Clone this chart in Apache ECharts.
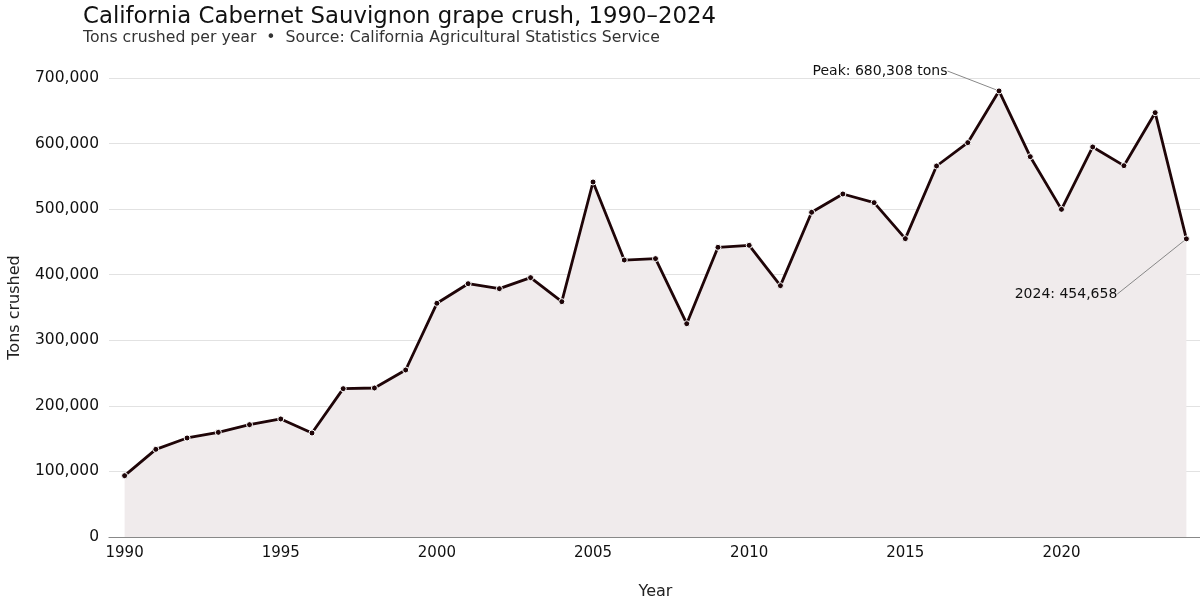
<!DOCTYPE html>
<html>
<head>
<meta charset="utf-8">
<title>California Cabernet Sauvignon grape crush</title>
<script src="https://cdn.jsdelivr.net/npm/echarts@6/dist/echarts.min.js"></script>
<style>
  html, body { margin: 0; padding: 0; background: #fff; overflow: hidden; }
  #chart { width: 1200px; height: 601px; }
</style>
</head>
<body>
<div id="chart"></div>
<script>
// years on the x axis
const years = [
  1990, 1991, 1992, 1993, 1994, 1995, 1996, 1997, 1998, 1999,
  2000, 2001, 2002, 2003, 2004, 2005, 2006, 2007, 2008, 2009,
  2010, 2011, 2012, 2013, 2014, 2015, 2016, 2017, 2018, 2019,
  2020, 2021, 2022, 2023, 2024
];

// tons crushed per year
const tons = [
  93500, 133700, 151000, 159600, 171300, 180000, 158600, 226200, 227200, 254700,
  356400, 386300, 378700, 395500, 358900, 541400, 422400, 424500, 325300, 441800,
  444800, 383300, 495200, 523100, 509900, 455000, 565800, 601400, 680308, 580000,
  499700, 594800, 566300, 647100, 454658
];

const yTicks = [0, 100000, 200000, 300000, 400000, 500000, 600000, 700000];

const peakIdx = tons.indexOf(Math.max(...tons));
const lastIdx = tons.length - 1;

const fmt = v => v.toLocaleString('en-US');
const font = 'DejaVu Sans';

const chartDom = document.getElementById('chart');
const myChart = echarts.init(chartDom);

// annotated points get their own label
const seriesData = tons.map((v, i) => {
  if (i === peakIdx) {
    return { value: v, label: { show: true, formatter: 'Peak: ' + fmt(v) + ' tons' } };
  }
  if (i === lastIdx) {
    return { value: v, label: { show: true, formatter: years[i] + ': ' + fmt(v) } };
  }
  return v;
});

const option = {
  animation: false,
  textStyle: { fontFamily: font },
  title: {
    text: 'California Cabernet Sauvignon grape crush, 1990\u20132024',
    subtext: 'Tons crushed per year  \u2022  Source: California Agricultural Statistics Service',
    left: 78,
    top: 1,
    itemGap: 1,
    textStyle: { fontFamily: font, fontSize: 22.8, fontWeight: 'normal', color: '#111' },
    subtextStyle: { fontFamily: font, fontSize: 15.7, color: '#333' }
  },
  // keep the plot box where it is, labels may sit outside it
  grid: { left: 109, right: -2, top: 78, bottom: 64, containLabel: false, outerBoundsMode: 'none' },
  xAxis: [
    {
      type: 'category',
      data: years,
      boundaryGap: true,
      name: 'Year',
      nameLocation: 'middle',
      nameGap: 47,
      nameTextStyle: { fontSize: 16, color: '#222' },
      axisLine: { lineStyle: { color: '#888', width: 1.2 } },
      axisTick: {
        alignWithLabel: true,
        interval: (i) => years[i] % 5 === 0,
        length: 7,
        lineStyle: { color: '#222', width: 1.2 }
      },
      axisLabel: {
        interval: (i) => years[i] % 5 === 0,
        fontSize: 15,
        color: '#111',
        margin: 9
      },
      splitLine: { show: false }
    },
    {
      type: 'category',
      data: years,
      boundaryGap: true,
      position: 'bottom',
      axisLine: { show: false },
      axisTick: {
        alignWithLabel: true,
        interval: 0,
        length: 4,
        lineStyle: { color: '#999', width: 1 }
      },
      axisLabel: { show: false },
      splitLine: { show: false }
    }
  ],
  yAxis: {
    type: 'value',
    min: yTicks[0],
    max: yTicks[yTicks.length - 1],
    interval: yTicks[1] - yTicks[0],
    name: 'Tons crushed',
    nameLocation: 'middle',
    nameGap: 86,
    nameTextStyle: { fontSize: 16, color: '#222' },
    axisLine: { show: false },
    axisTick: { show: false },
    axisLabel: { formatter: fmt, fontSize: 15.5, color: '#111', margin: 10 },
    splitLine: { lineStyle: { color: '#e2e2e2', width: 1 } }
  },
  series: [
    {
      type: 'line',
      data: seriesData,
      symbol: 'circle',
      symbolSize: 6,
      itemStyle: { color: '#1f0508', borderColor: '#fff', borderWidth: 1 },
      lineStyle: { color: '#1f0508', width: 2.8 },
      areaStyle: { color: '#f0ebec', opacity: 1 },
      label: { show: false, fontSize: 14, color: '#111', fontFamily: font },
      labelLine: { show: true, lineStyle: { color: '#888', width: 1 } },
      labelLayout: (p) => {
        if (p.dataIndex === peakIdx) {
          return { x: 880, y: 71, align: 'center', verticalAlign: 'middle' };
        }
        if (p.dataIndex === lastIdx) {
          return { x: 1066, y: 294, align: 'center', verticalAlign: 'middle' };
        }
        return {};
      },
      z: 3
    }
  ]
};

option && myChart.setOption(option);
</script>
</body>
</html>
